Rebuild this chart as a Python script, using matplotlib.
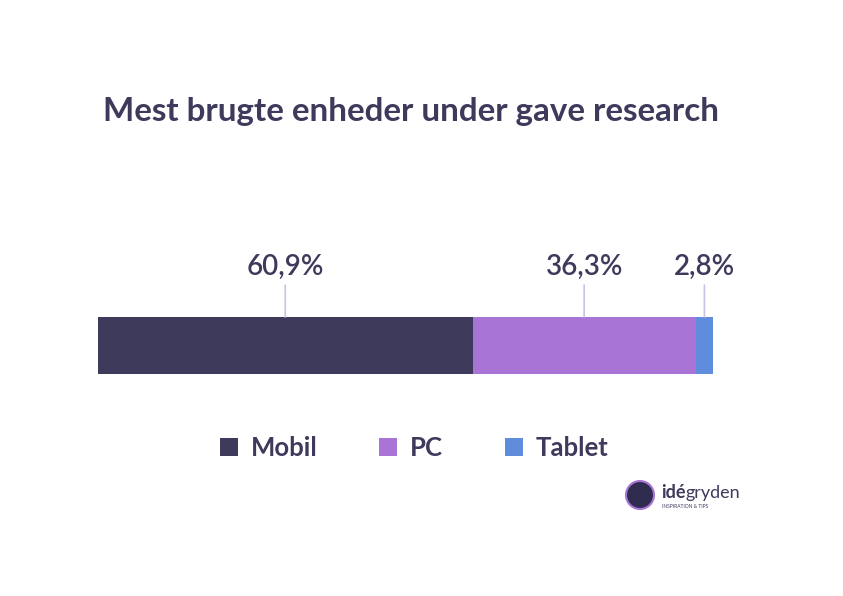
import matplotlib
matplotlib.use("Agg")
import matplotlib.pyplot as plt
from matplotlib.patches import Patch, Ellipse

plt.rcParams['font.family'] = ['Lato', 'DejaVu Sans']

# data
devices = ["Mobil", "PC", "Tablet"]
shares = [60.9, 36.3, 2.8]
labels = ["60,9%", "36,3%", "2,8%"]
colors = ["#3d3a5c", "#a875d6", "#5f8ddb"]
text_col = "#3d3a5c"

fig = plt.figure(figsize=(8.43, 5.96), dpi=100)
W, H = 843, 596

# axes spans exactly the bar
ax = fig.add_axes([98 / W, (H - 374) / H, 615 / W, 57 / H])
left = 0
for name, val, lab, col in zip(devices, shares, labels, colors):
    ax.barh(0, val, left=left, height=1, color=col, edgecolor="none")
    mid = left + val / 2
    ax.annotate("", xy=(mid, 0.5), xytext=(0, 23), textcoords="offset points",
                arrowprops=dict(arrowstyle="-", color="#c9c2e3", lw=1.2,
                                shrinkA=0, shrinkB=0))
    ax.annotate(lab, xy=(mid, 0.5), xytext=(0, 26.5), textcoords="offset points",
                ha="center", va="bottom", fontsize=20, color=text_col,
                fontweight="semibold")
    left += val
ax.set_xlim(0, 100)
ax.set_ylim(-0.5, 0.5)
ax.axis("off")

fig.text(103 / W, 1 - 112 / H, "Mest brugte enheder under gave research",
         ha="left", va="center", fontsize=23.9, fontweight="bold", color=text_col)

handles = [Patch(facecolor=c, edgecolor="none") for c in colors]
leg = fig.legend(handles, devices, loc="center", bbox_to_anchor=(414 / W, 1 - 448 / H),
                 ncol=3, frameon=False, fontsize=18.5, handlelength=0.7, handleheight=0.7,
                 handletextpad=0.5, columnspacing=2.4)
for t in leg.get_texts():
    t.set_color(text_col)
    t.set_fontweight("bold")

# logo
fig.patches.append(Ellipse((640 / W, 1 - 495 / H), 28 / W, 28 / H, transform=fig.transFigure,
                           facecolor="#2f2c4f", edgecolor="#a875d6", lw=1.5))
fig.text(661 / W, 1 - 493 / H, "idé", ha="left", va="center", fontsize=13,
         fontweight="bold", color=text_col)
fig.text(686 / W, 1 - 493 / H, "gryden", ha="left", va="center", fontsize=13,
         color=text_col)
fig.text(662 / W, 1 - 507 / H, "INSPIRATION & TIPS", ha="left", va="center",
         fontsize=3.5, color=text_col)

fig.savefig("out.png", dpi=100)
